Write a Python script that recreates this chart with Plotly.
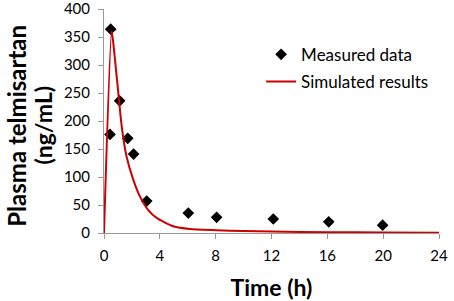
import plotly.graph_objects as go

# Measured data
meas_t = [0.43, 0.48, 1.12, 1.7, 2.12, 3.06, 6.04, 8.07, 12.13, 16.1, 19.96]
meas_c = [176, 364, 236, 169, 141, 57, 35.5, 28, 25, 20, 14]

# Simulated results
sim_t = [0, 0.55, 0.72, 1.03, 1.27, 1.62, 2.1, 2.58, 3.17, 3.77, 4.96, 6.16, 8.07, 10, 12, 16, 20, 24]
sim_c = [0, 361, 326, 249, 190, 136, 95, 65, 41, 27, 12, 7, 5, 3.5, 2.5, 1.5, 1, 0.5]

x_ticks = [0, 4, 8, 12, 16, 20, 24]
y_ticks = [0, 50, 100, 150, 200, 250, 300, 350, 400]

y_title_lines = ["Plasma telmisartan", "(ng/mL)"]

fig = go.Figure()
fig.add_trace(go.Scatter(x=meas_t, y=meas_c, mode="markers", name="Measured data",
                         legendgroup="a",
                         marker=dict(symbol="diamond", size=9, color="black")))
fig.add_trace(go.Scatter(x=sim_t, y=sim_c, mode="lines", name="Simulated results",
                         legendgroup="b",
                         line=dict(color="#CC0000", width=2, shape="spline", smoothing=0.6)))

font_family = "Lato, Open Sans, sans-serif"
fig.update_layout(
    width=454, height=301,
    margin=dict(l=104, r=15, t=9, b=68, autoexpand=False),
    paper_bgcolor="white", plot_bgcolor="white",
    font=dict(family=font_family, size=15, color="black"),
    showlegend=True,
    legend=dict(x=0.469, y=0.876, xanchor="left", yanchor="top",
                traceorder="grouped", tracegroupgap=2,
                bgcolor="rgba(0,0,0,0)", font=dict(size=17)),
    xaxis=dict(range=[0, 24], tickvals=x_ticks, showgrid=False, zeroline=False,
               showline=True, linecolor="#999999", linewidth=1,
               ticks="outside", ticklen=5, tickcolor="#999999",
               ticklabeloverflow="allow", automargin=False, ticklabelstandoff=4,
               title=dict(text="<b>Time (h)</b>", font=dict(size=23), standoff=16)),
    yaxis=dict(range=[0, 400], tickvals=y_ticks, showgrid=False, zeroline=False,
               showline=True, linecolor="#999999", linewidth=1,
               ticks="outside", ticklen=5, tickcolor="#999999",
               ticklabeloverflow="allow", automargin=False, ticklabelstandoff=5),
)

# Two-line y-axis title as rotated annotations (precise line placement)
for txt, xp, sz in [(y_title_lines[0], -0.262, 24), (y_title_lines[1], -0.182, 23)]:
    fig.add_annotation(text="<b>" + txt + "</b>", xref="paper", yref="paper",
                       x=xp, y=0.48, xanchor="center", yanchor="middle",
                       textangle=-90, showarrow=False,
                       font=dict(size=sz, family=font_family, color="black"))

fig.write_html("out.html", config={"displayModeBar": False},
               post_script="document.body.style.margin='0';document.body.style.overflow='hidden';")
